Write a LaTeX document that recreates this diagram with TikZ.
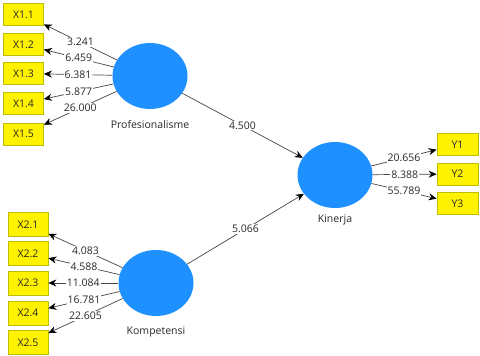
\documentclass[tikz,border=0pt]{standalone}
\usepackage{fontspec}
\setmainfont{Open Sans}
\usetikzlibrary{shapes.geometric,arrows.meta}
\definecolor{lvblue}{RGB}{30,144,255}
\definecolor{boxedge}{RGB}{190,190,0}
\definecolor{linegray}{RGB}{70,70,70}
\definecolor{txt}{RGB}{40,40,40}
\begin{document}
\begin{tikzpicture}[x=1pt,y=-1pt,
  latent/.style={ellipse,fill=lvblue,draw=none,minimum width=75pt,minimum height=66pt,inner sep=0pt},
  indbox/.style={rectangle,fill=yellow,draw=boxedge,line width=0.7pt,minimum width=40pt,minimum height=22pt,inner sep=0pt,font=\fontsize{10.5}{12}\selectfont,text=txt},
  indbox2/.style={indbox,minimum height=24pt},
  lvlabel/.style={font=\fontsize{10.5}{12}\selectfont,text=txt},
  conn/.style={draw=linegray,line width=0.7pt,-{Stealth[length=8pt,width=7pt,color=black]}},
  val/.style={fill=white,inner sep=1pt,font=\fontsize{10.5}{12}\selectfont,text=txt,pos=0.5}
]
\useasboundingbox (0,0) rectangle (480,356);
\fill[white] (0,0) rectangle (480,356);

\node[latent] (P) at (150,76) {};
\node[latent] (K) at (156,283) {};
\node[latent] (Y) at (335,175) {};
\node[lvlabel] (Pl) at (150,125) {Profesionalisme};
\node[lvlabel] (Kl) at (156,332) {Kompetensi};
\node[lvlabel] (Yl) at (335,220) {Kinerja};

\node[indbox] (x11) at (23.5,14.5) {X1.1};
\node[indbox] (x12) at (23.5,44.5) {X1.2};
\node[indbox] (x13) at (23.5,73.5) {X1.3};
\node[indbox] (x14) at (23.5,103.5) {X1.4};
\node[indbox] (x15) at (23.5,134) {X1.5};

\node[indbox2] (x21) at (28,224.5) {X2.1};
\node[indbox2] (x22) at (28,253.5) {X2.2};
\node[indbox2] (x23) at (28,283) {X2.3};
\node[indbox2] (x24) at (28,313) {X2.4};
\node[indbox2] (x25) at (28,342.5) {X2.5};

\node[indbox,minimum width=41pt] (y1) at (457.5,144.5) {Y1};
\node[indbox,minimum width=41pt] (y2) at (457.5,174) {Y2};
\node[indbox,minimum width=41pt] (y3) at (457.5,203.5) {Y3};

\path[conn] (P) -- node[val] {3.241} (x11);
\path[conn] (P) -- node[val] {6.459} (x12);
\path[conn] (P) -- node[val] {6.381} (x13);
\path[conn] (P) -- node[val] {5.877} (x14);
\path[conn] (P) -- node[val] {26.000} (x15);

\path[conn] (K) -- node[val] {4.083} (x21);
\path[conn] (K) -- node[val] {4.588} (x22);
\path[conn] (K) -- node[val] {11.084} (x23);
\path[conn] (K) -- node[val] {16.781} (x24);
\path[conn] (K) -- node[val] {22.605} (x25);

\path[conn] (Y) -- node[val] {20.656} (y1);
\path[conn] (Y) -- node[val] {8.388} (y2);
\path[conn] (Y) -- node[val] {55.789} (y3);

\path[conn] (P) -- node[val] {4.500} (Y);
\path[conn] (K) -- node[val] {5.066} (Y);
\end{tikzpicture}
\end{document}
